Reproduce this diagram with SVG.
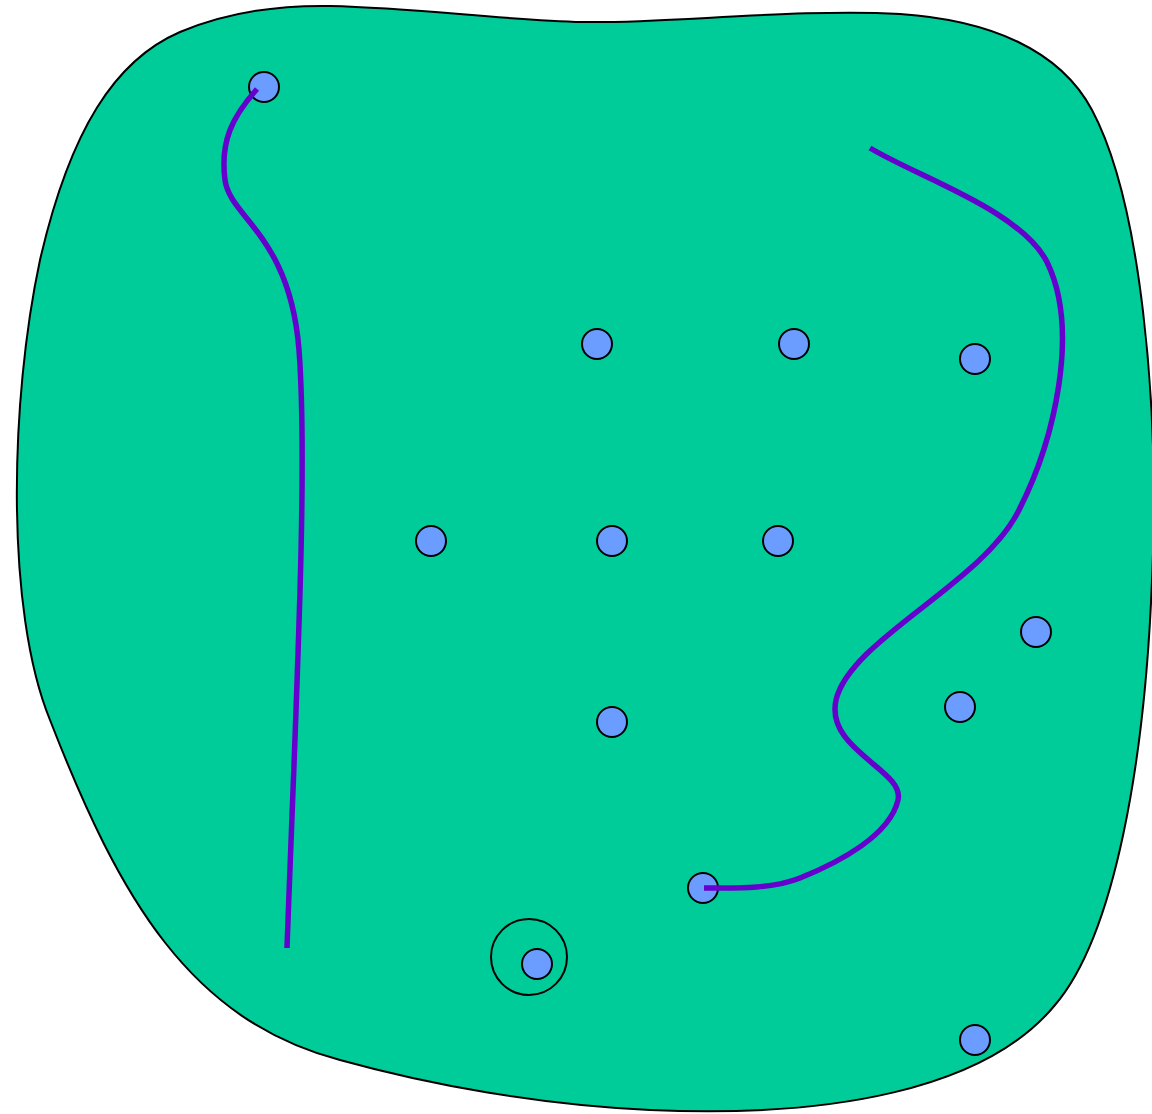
<svg xmlns="http://www.w3.org/2000/svg" width="1152" height="1114" viewBox="0 0 1152 1114">
<style>
.node{fill:#6b9cff;stroke:#000;stroke-width:2}
.edge{fill:none;stroke:#6600cc;stroke-width:5.5}
</style>
<rect width="1152" height="1114" fill="#fff"/>
<path id="region" d="M 583,22 C 660,24 800,8 900,14 C 990,20 1060,50 1092,110 C 1140,200 1160,400 1152,580 C 1145,760 1115,935 1055,1005 C 985,1090 830,1118 650,1110 C 540,1105 430,1085 340,1060 C 190,1020 120,900 50,720 C 5,610 10,400 40,260 C 70,130 115,60 180,32 C 220,15 270,5 330,6 C 420,8 500,20 583,22 Z" fill="#00cc99" stroke="#000" stroke-width="2"/>
<g id="ring"><circle cx="529" cy="957" r="38" fill="none" stroke="#000" stroke-width="2"/></g>
<g id="n1"><circle class="node" cx="264" cy="87" r="15"/></g>
<g id="n2"><circle class="node" cx="597" cy="344" r="15"/></g>
<g id="n3"><circle class="node" cx="794" cy="344" r="15"/></g>
<g id="n4"><circle class="node" cx="975" cy="359" r="15"/></g>
<g id="n5"><circle class="node" cx="431" cy="541" r="15"/></g>
<g id="n6"><circle class="node" cx="612" cy="541" r="15"/></g>
<g id="n7"><circle class="node" cx="778" cy="541" r="15"/></g>
<g id="n8"><circle class="node" cx="1036" cy="632" r="15"/></g>
<g id="n9"><circle class="node" cx="960" cy="707" r="15"/></g>
<g id="n10"><circle class="node" cx="612" cy="722" r="15"/></g>
<g id="n11"><circle class="node" cx="703" cy="888" r="15"/></g>
<g id="n12"><circle class="node" cx="537" cy="964" r="15"/></g>
<g id="n13"><circle class="node" cx="975" cy="1040" r="15"/></g>
<g id="connectors">
<path class="edge" d="M 257,89 C 232,117 220,142 225,180 C 230,218 290,235 299,350 C 308,470 296,700 287,948"/>
<path class="edge" d="M 870,148 C 920,178 1020,210 1047,262 C 1080,330 1055,440 1018,512 C 980,585 850,640 836,700 C 825,750 905,770 898,800 C 890,835 840,862 800,878 C 770,890 730,888 704,888"/>
</g>
</svg>
